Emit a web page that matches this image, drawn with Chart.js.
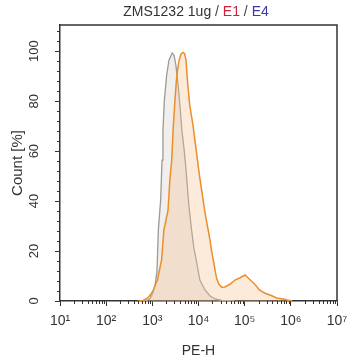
<!DOCTYPE html>
<html><head><meta charset="utf-8">
<script src="https://cdn.jsdelivr.net/npm/chart.js@4"></script>
<style>html,body{margin:0;padding:0;background:#fff}#wrap{width:356px;height:360px}</style>
</head><body><div id="wrap"><canvas id="c" width="356" height="360"></canvas></div>
<script>
// x values are decade exponents (log10 of PE-H)
const grayX = [2.78,2.88,2.95,3.01,3.06,3.10,3.13,3.18,3.21,3.23,3.26,3.31,3.36,3.43,3.47,3.51,3.56,3.60,3.64,3.69,3.73,3.79,3.85,3.90,3.96,4.03,4.14,4.25,4.36,4.51,4.79];
const grayY = [0,0.2,1.0,3.2,6.4,11.6,28.4,40.4,56.4,68.4,80.4,90.4,96.4,99.3,98.4,94.4,86.4,77.6,68.4,60.4,52.4,38.4,28.4,21.2,15.6,8.4,4.4,2.0,0.8,0.2,0];
const orangeX = [2.69,2.80,2.86,2.92,2.97,3.02,3.11,3.20,3.25,3.34,3.38,3.42,3.45,3.49,3.53,3.58,3.62,3.66,3.70,3.73,3.76,3.81,3.88,3.95,4.02,4.10,4.15,4.21,4.25,4.28,4.32,4.36,4.39,4.44,4.50,4.57,4.68,4.79,4.90,5.01,5.12,5.22,5.32,5.44,5.59,5.69,5.84,5.92,6.03];
const orangeY = [0,0.2,0.8,1.6,2.8,4.4,8.4,16.4,28.4,36.4,48.4,56.4,68.4,80.4,90.4,96.4,98.8,99.5,99.0,96.4,88.4,78.4,70.4,60.4,50.4,40.4,34.4,28.4,24.4,20.4,16.4,12.4,9.2,6.8,5.5,5.6,6.7,8.4,9.3,10.4,8.4,6.7,4.4,3.1,2.1,1.2,0.8,0.4,0];
const xTickLabels = {1:'10¹',2:'10²',3:'10³',4:'10⁴',5:'10⁵',6:'10⁶',7:'10⁷'};
const yTickValues = [0,20,40,60,80,100];
const titleParts = [['ZMS1232 1ug','#333333'],[' / ','#444444'],['E1','#d0213a'],[' / ','#444444'],['E4','#3b3ba8']];

const FONT = '"Liberation Sans", Arial, sans-serif';
const AX = '#333333';

const extras = {
  id: 'extras',
  afterDraw(chart) {
    const ctx = chart.ctx, a = chart.chartArea;
    const xs = chart.scales.x, ys = chart.scales.y;
    ctx.save();
    ctx.strokeStyle = AX; ctx.lineWidth = 1.5;
    ctx.beginPath();
    ctx.moveTo(a.left, a.top); ctx.lineTo(a.right, a.top); ctx.lineTo(a.right, a.bottom);
    ctx.stroke();
    ctx.lineWidth = 1;
    ctx.beginPath();
    for (let d = 1; d < 7; d++) {
      for (let k = 2; k <= 9; k++) {
        const px = Math.round(xs.getPixelForValue(d + Math.log10(k))) + 0.5;
        ctx.moveTo(px, a.bottom); ctx.lineTo(px, a.bottom + 3);
      }
    }
    for (let v = 4; v <= 108; v += 4) {
      if (v % 20 === 0) continue;
      const py = Math.round(ys.getPixelForValue(v)) + 0.5;
      ctx.moveTo(a.left - 3, py); ctx.lineTo(a.left, py);
    }
    ctx.stroke();
    // title
    ctx.font = '14px ' + FONT;
    ctx.textBaseline = 'middle';
    let total = 0;
    titleParts.forEach(p => total += ctx.measureText(p[0]).width);
    let x = 196 - total / 2;
    titleParts.forEach(p => { ctx.fillStyle = p[1]; ctx.textAlign = 'left'; ctx.fillText(p[0], x, 12); x += ctx.measureText(p[0]).width; });
    ctx.restore();
  }
};

new Chart(document.getElementById('c'), {
  type: 'line',
  data: {
    datasets: [
      { label: 'E1', data: orangeX.map((x, i) => ({x, y: orangeY[i]})), borderColor: '#e8902c', borderWidth: 1.5,
        backgroundColor: 'rgba(246,190,140,0.32)', fill: 'origin', pointRadius: 0, tension: 0 },
      { label: 'E4', data: grayX.map((x, i) => ({x, y: grayY[i]})), borderColor: '#9a9a9a', borderWidth: 1.3,
        backgroundColor: 'rgba(175,160,145,0.18)', fill: 'origin', pointRadius: 0, tension: 0 }
    ]
  },
  options: {
    responsive: false, animation: false,
    layout: { padding: { top: 25, right: 19, left: 0, bottom: 0 } },
    plugins: { legend: { display: false }, title: { display: false }, tooltip: { enabled: false } },
    scales: {
      x: {
        type: 'linear', min: 1, max: 7,
        afterFit(s) { s.height = 59; },
        border: { color: AX, width: 1.5 },
        grid: { drawOnChartArea: false, tickLength: 5, tickColor: AX, tickWidth: 1 },
        ticks: { stepSize: 1, color: '#333', font: { size: 14, family: FONT }, padding: 7, maxRotation: 0,
          callback: v => xTickLabels[v] || '' },
        title: { display: true, text: 'PE-H', color: '#333', font: { size: 14, family: FONT }, padding: { top: 0, bottom: 0 } }
      },
      y: {
        type: 'linear', min: 0, max: 110.5,
        afterFit(s) { s.width = 60; },
        afterBuildTicks(s) { s.ticks = yTickValues.map(v => ({ value: v })); },
        border: { color: AX, width: 1.5 },
        grid: { drawOnChartArea: false, tickLength: 5, tickColor: AX, tickWidth: 1 },
        ticks: { color: '#333', font: { size: 13, family: FONT }, padding: 10, minRotation: 90, maxRotation: 90, crossAlign: 'center' },
        title: { display: true, text: 'Count [%]', color: '#333', font: { size: 15, family: FONT }, padding: { top: 9, bottom: 0 } }
      }
    }
  },
  plugins: [extras]
});
</script></body></html>
